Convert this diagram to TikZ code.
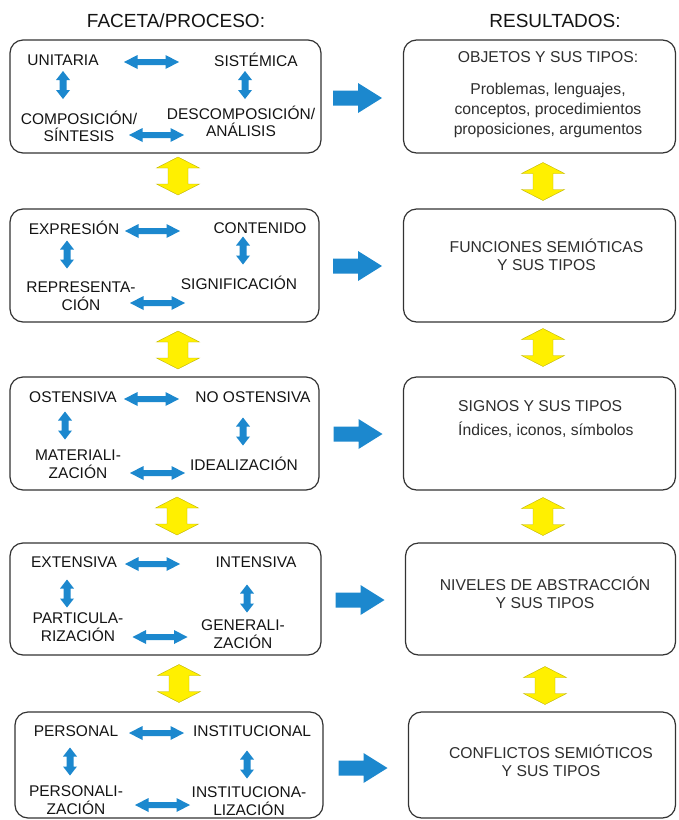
\documentclass[tikz,border=0pt]{standalone}
\usepackage{fontspec}
\setmainfont{Liberation Sans}
\definecolor{bluearr}{RGB}{28,136,206}
\definecolor{yellarr}{RGB}{255,240,0}
\definecolor{txt}{RGB}{20,20,20}
\tikzset{
  box/.style={draw=black!80, line width=1.2pt, rounded corners=13pt, inner sep=0pt, fill=white},
  lab/.style={text=txt, font=\fontsize{15.5}{17.5}\selectfont, align=center, inner sep=0pt},
  rlab/.style={text=black!82, font=\fontsize{15.7}{18}\selectfont, align=center, inner sep=0pt},
  hdr/.style={text=txt, font=\fontsize{19}{22}\selectfont, inner sep=0pt},
  bdh/.pic={\fill[bluearr] (-27.5,0) -- (-14,-7) -- (-14,-3) -- (14,-3) -- (14,-7) -- (27.5,0) -- (14,7) -- (14,3) -- (-14,3) -- (-14,7) -- cycle;},
  bdv/.pic={\fill[bluearr] (0,-14) -- (7,-5) -- (3.5,-5) -- (3.5,5) -- (7,5) -- (0,14) -- (-7,5) -- (-3.5,5) -- (-3.5,-5) -- (-7,-5) -- cycle;},
  bra/.pic={\fill[bluearr] (-24.5,-7.5) -- (0.5,-7.5) -- (0.5,-15) -- (24.5,0) -- (0.5,15) -- (0.5,7.5) -- (-24.5,7.5) -- cycle;},
  ydv/.pic={\filldraw[fill=yellarr, draw=yellarr!75!black, line width=0.4pt] (0,-19) -- (21.5,-8) -- (10,-8) -- (10,8) -- (21.5,8) -- (0,19) -- (-21.5,8) -- (-10,8) -- (-10,-8) -- (-21.5,-8) -- cycle;}
}
\begin{document}
\begin{tikzpicture}[x=1pt,y=-1pt]
\useasboundingbox[fill=white] (0,0) rectangle (678,820);

% headers
\node[hdr] (hL) at (176,21) {FACETA/PROCESO:};
\node[hdr] (hR) at (555,21) {RESULTADOS:};

% left boxes
\node[box, minimum width=311pt, minimum height=113pt] (L1) at (165.5,96.5) {};
\node[box, minimum width=309pt, minimum height=113pt] (L2) at (164.5,265.5) {};
\node[box, minimum width=309pt, minimum height=113pt] (L3) at (164.5,433.5) {};
\node[box, minimum width=311pt, minimum height=112pt] (L4) at (165.5,599) {};
\node[box, minimum width=308pt, minimum height=106pt] (L5) at (169,765) {};

% right boxes
\node[box, minimum width=272pt, minimum height=113pt] (R1) at (539.5,96.5) {};
\node[box, minimum width=272pt, minimum height=113pt] (R2) at (539.5,265.5) {};
\node[box, minimum width=272pt, minimum height=113pt] (R3) at (539.5,433.5) {};
\node[box, minimum width=270pt, minimum height=112pt] (R4) at (540.5,599) {};
\node[box, minimum width=267pt, minimum height=106pt] (R5) at (542,765) {};

% box 1
\node[lab] (a1) at (63,60) {UNITARIA};
\node[lab] (b1) at (256,60) {SISTÉMICA};
\node[lab] (c1) at (79,126.5) {COMPOSICIÓN/\\SÍNTESIS};
\node[lab] (d1) at (241,121.5) {DESCOMPOSICIÓN/\\ANÁLISIS};
\pic at (151.5,62) {bdh};
\pic at (156.5,135) {bdh};
\pic at (63,85) {bdv};
\pic at (245,85) {bdv};

% box 2
\node[lab] (a2) at (74,228) {EXPRESIÓN};
\node[lab] (b2) at (260,228) {CONTENIDO};
\node[lab] (c2) at (81,296) {REPRESENTA-\\CIÓN};
\node[lab] (d2) at (239,283) {SIGNIFICACIÓN};
\pic at (152.5,231) {bdh};
\pic at (157.5,303) {bdh};
\pic at (67,254.5) {bdv};
\pic at (243,250.5) {bdv};

% box 3
\node[lab] (a3) at (73,397) {OSTENSIVA};
\node[lab] (b3) at (253,397) {NO OSTENSIVA};
\node[lab] (c3) at (78,464) {MATERIALI-\\ZACIÓN};
\node[lab] (d3) at (244,464) {IDEALIZACIÓN};
\pic at (151.5,399) {bdh};
\pic at (157.5,473) {bdh};
\pic at (65,425.5) {bdv};
\pic at (243,431.5) {bdv};

% box 4
\node[lab] (a4) at (74,562) {EXTENSIVA};
\node[lab] (b4) at (256,562) {INTENSIVA};
\node[lab] (c4) at (78,627) {PARTICULA-\\RIZACIÓN};
\node[lab] (d4) at (243,634) {GENERALI-\\ZACIÓN};
\pic at (152.5,564) {bdh};
\pic at (160,637) {bdh};
\pic at (67,593.5) {bdv};
\pic at (247,598.5) {bdv};

% box 5
\node[lab] (a5) at (76,731) {PERSONAL};
\node[lab] (b5) at (252,731) {INSTITUCIONAL};
\node[lab] (c5) at (76,800) {PERSONALI-\\ZACIÓN};
\node[lab] (d5) at (249,801) {INSTITUCIONA-\\LIZACIÓN};
\pic at (156.5,733) {bdh};
\pic at (162.5,805) {bdh};
\pic at (70,761.5) {bdv};
\pic at (247,764.5) {bdv};

% right texts
\node[rlab] (r1a) at (548,57) {OBJETOS Y SUS TIPOS:};
\node[rlab, font=\fontsize{15.7}{20}\selectfont] (r1b) at (548,110) {Problemas, lenguajes,\\conceptos, procedimientos\\proposiciones, argumentos};
\node[rlab] (r2) at (546.5,255) {FUNCIONES SEMIÓTICAS\\Y SUS TIPOS};
\node[rlab, anchor=west] (r3a) at (458,406) {SIGNOS Y SUS TIPOS};
\node[rlab, anchor=west] (r3b) at (458,430) {Índices, iconos, símbolos};
\node[rlab] (r4) at (545,593) {NIVELES DE ABSTRACCIÓN\\Y SUS TIPOS};
\node[rlab] (r5) at (551,761) {CONFLICTOS SEMIÓTICOS\\Y SUS TIPOS};

% blue right arrows
\pic at (357.5,98) {bra};
\pic at (357.5,266) {bra};
\pic at (358,434) {bra};
\pic at (360,600) {bra};
\pic at (363,768) {bra};

% yellow arrows
\pic at (178,176) {ydv};
\pic at (178,350) {ydv};
\pic at (177,516) {ydv};
\pic at (179,683.5) {ydv};
\pic at (543,181.5) {ydv};
\pic at (543,347.5) {ydv};
\pic at (543,516.5) {ydv};
\pic at (545,685.5) {ydv};
\end{tikzpicture}
\end{document}
